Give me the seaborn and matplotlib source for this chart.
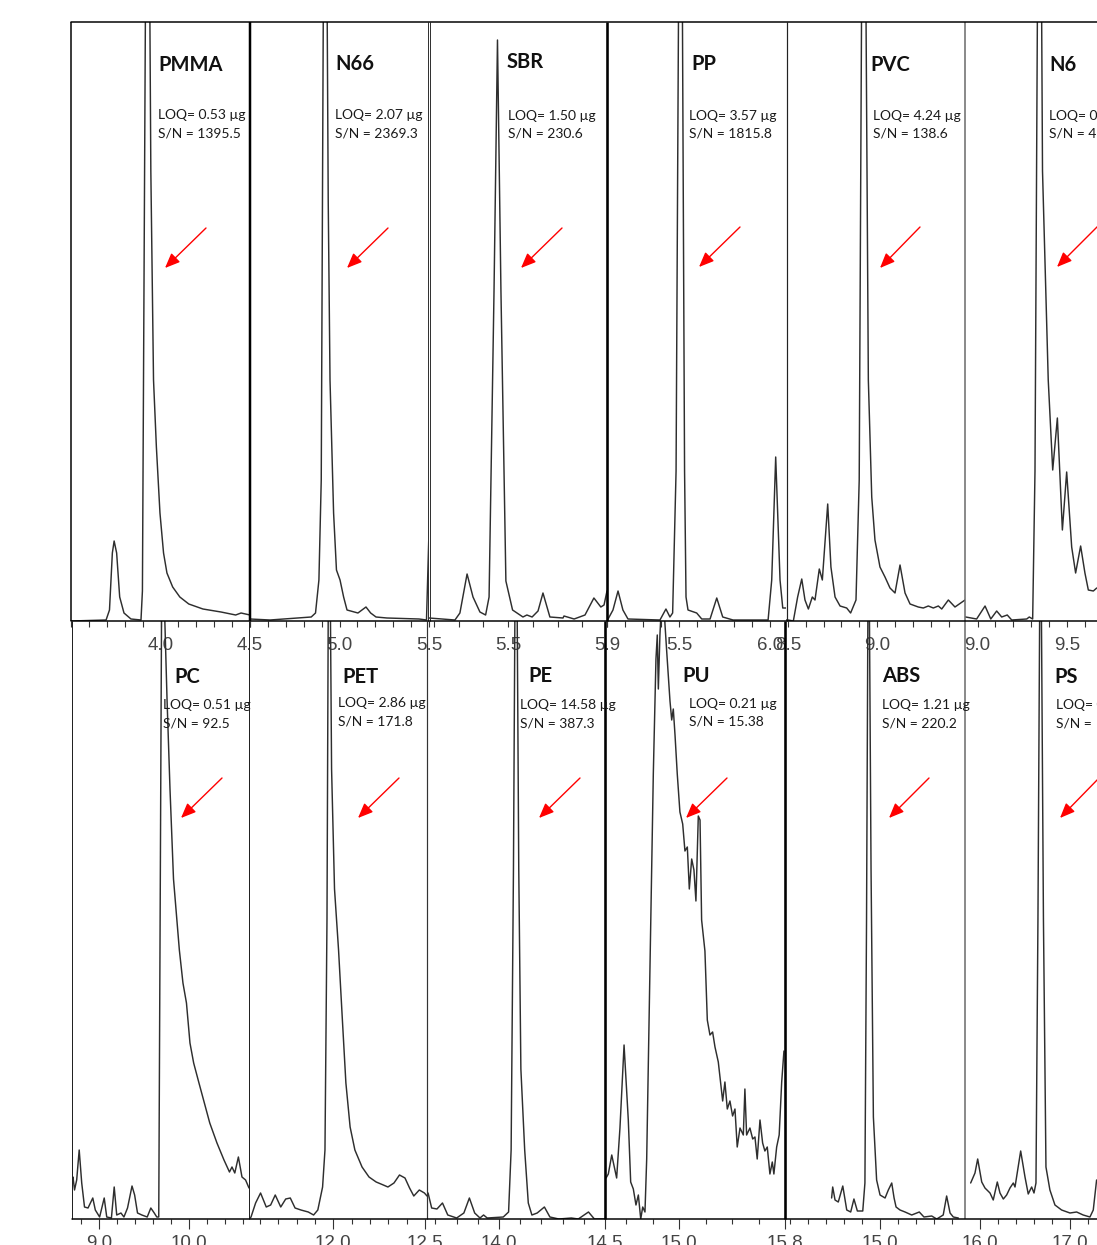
import matplotlib
matplotlib.use("Agg")
import matplotlib.pyplot as plt
import seaborn as sns
from matplotlib.ticker import MultipleLocator

# ---- data: retention time (min) and signal (a.u.) ----
# top row
pmma_time = [3.500, 3.696, 3.715, 3.731, 3.741, 3.755, 3.772, 3.796, 3.835, 3.891, 3.899,
             3.927, 3.946, 3.961, 3.977, 3.997, 4.017, 4.036, 4.068, 4.108, 4.158, 4.237,
             4.338, 4.420, 4.450, 4.500]
pmma_signal = [0, 1, 11, 68, 80, 68, 24, 8, 2, 1, 30, 1000, 450, 241, 174, 108, 68, 48, 34,
               24, 17, 12, 9, 6, 8, 6]

n66_time = [4.500, 4.612, 4.842, 4.866, 4.885, 4.898, 4.919, 4.937, 4.947, 4.967, 4.983,
            5.003, 5.023, 5.042, 5.103, 5.148, 5.174, 5.204, 5.265, 5.444, 5.486, 5.500]
n66_signal = [2, 1, 4, 8, 41, 141, 1000, 420, 241, 108, 51, 41, 24, 11, 8, 14, 8, 4, 3, 2,
              1, 90]

sbr_time = [5.180, 5.285, 5.305, 5.334, 5.358, 5.386, 5.409, 5.423, 5.443, 5.457, 5.471,
            5.491, 5.518, 5.560, 5.576, 5.597, 5.621, 5.641, 5.669, 5.722, 5.726, 5.767,
            5.811, 5.847, 5.875, 5.888, 5.900]
sbr_signal = [3, 1, 8, 47, 24, 9, 6, 24, 330, 581, 330, 40, 11, 4, 6, 4, 10, 28, 4, 3, 5,
              2, 6, 23, 14, 16, 30]

pp_time = [5.100, 5.106, 5.133, 5.161, 5.188, 5.216, 5.393, 5.426, 5.448, 5.463, 5.482,
           5.507, 5.529, 5.537, 5.548, 5.596, 5.624, 5.670, 5.707, 5.740, 5.797, 5.991,
           6.011, 6.033, 6.057, 6.072, 6.090]
pp_signal = [1, 2, 11, 30, 11, 2, 1, 12, 4, 8, 150, 1000, 150, 24, 11, 8, 2, 2, 23, 4, 1,
             1, 41, 164, 41, 13, 13]

pvc_time = [8.490, 8.503, 8.531, 8.555, 8.578, 8.596, 8.615, 8.637, 8.652, 8.676, 8.693,
            8.723, 8.741, 8.764, 8.792, 8.829, 8.851, 8.881, 8.899, 8.923, 8.950, 8.969,
            8.987, 9.015, 9.043, 9.071, 9.099, 9.127, 9.155, 9.183, 9.229, 9.257, 9.285,
            9.313, 9.341, 9.360, 9.397, 9.434, 9.490]
pvc_signal = [1, 1, 0, 24, 42, 21, 12, 24, 21, 52, 41, 117, 54, 24, 15, 13, 8, 21, 141, 1000,
              241, 124, 81, 54, 44, 33, 28, 56, 28, 17, 14, 13, 15, 13, 15, 12, 21, 14, 21]

n6_time = [8.934, 8.995, 9.042, 9.074, 9.107, 9.135, 9.166, 9.191, 9.275, 9.289, 9.308,
           9.321, 9.346, 9.363, 9.395, 9.420, 9.446, 9.474, 9.498, 9.526, 9.548, 9.576,
           9.600, 9.619, 9.647, 9.666]
n6_signal = [4, 2, 15, 2, 10, 4, 6, 1, 2, 4, 2, 150, 1000, 450, 241, 151, 203, 91, 149, 74,
             48, 75, 48, 31, 30, 33]

# bottom row
pc_time = [8.700, 8.711, 8.728, 8.752, 8.780, 8.808, 8.839, 8.878, 8.931, 8.959, 9.007,
           9.058, 9.086, 9.138, 9.169, 9.197, 9.244, 9.277, 9.317, 9.367, 9.396, 9.428,
           9.476, 9.536, 9.576, 9.614, 9.642, 9.664, 9.700, 9.756, 9.789, 9.828, 9.893,
           9.933, 9.972, 10.011, 10.052, 10.111, 10.171, 10.231, 10.311, 10.389, 10.450,
           10.478, 10.509, 10.549, 10.589, 10.629, 10.667]
pc_signal = [40, 42, 29, 39, 69, 36, 12, 11, 21, 9, 2, 21, 2, 1, 32, 4, 6, 2, 11, 33, 24, 6,
             4, 2, 11, 6, 2, 2, 700, 520, 430, 340, 269, 236, 216, 176, 156, 136, 116, 96,
             76, 59, 47, 52, 46, 62, 42, 39, 31]

pet_time = [11.540, 11.551, 11.576, 11.603, 11.634, 11.658, 11.683, 11.713, 11.740, 11.765,
            11.791, 11.823, 11.863, 11.892, 11.915, 11.941, 11.954, 11.965, 11.976, 11.990,
            12.006, 12.028, 12.048, 12.068, 12.091, 12.117, 12.156, 12.194, 12.233, 12.272,
            12.297, 12.330, 12.360, 12.390, 12.415, 12.438, 12.468, 12.496, 12.510]
pet_signal = [0, 2, 16, 26, 12, 14, 24, 12, 20, 21, 11, 9, 7, 4, 9, 32, 69, 300, 800, 450,
              330, 269, 202, 136, 92, 69, 52, 42, 37, 34, 32, 36, 44, 41, 31, 23, 29, 26, 23]

pe_time = [13.660, 13.665, 13.682, 13.707, 13.733, 13.758, 13.800, 13.834, 13.860, 13.885,
           13.910, 13.927, 13.944, 14.020, 14.045, 14.057, 14.068, 14.080, 14.093, 14.103,
           14.121, 14.138, 14.155, 14.180, 14.214, 14.240, 14.282, 14.341, 14.374, 14.422,
           14.450, 14.500]
pe_signal = [23, 26, 11, 10, 16, 4, 1, 6, 21, 6, 1, 4, 1, 2, 7, 69, 350, 800, 350, 150, 69,
             16, 4, 6, 12, 2, 0, 1, 0, 7, 0, 0]

pu_time = [14.448, 14.465, 14.491, 14.528, 14.553, 14.584, 14.616, 14.634, 14.654, 14.674,
           14.692, 14.710, 14.725, 14.742, 14.755, 14.780, 14.805, 14.825, 14.835, 14.843,
           14.855, 14.876, 14.893, 14.906, 14.931, 14.944, 14.956, 14.969, 14.986, 15.006,
           15.027, 15.044, 15.062, 15.077, 15.095, 15.112, 15.127, 15.145, 15.158, 15.170,
           15.195, 15.213, 15.233, 15.253, 15.271, 15.296, 15.329, 15.346, 15.364, 15.384,
           15.404, 15.422, 15.439, 15.460, 15.485, 15.497, 15.510, 15.535, 15.556, 15.573,
           15.590, 15.611, 15.631, 15.648, 15.666, 15.686, 15.704, 15.716, 15.737, 15.756,
           15.775, 15.792]
pu_signal = [41, 45, 64, 41, 91, 174, 99, 37, 30, 14, 24, 0, 12, 7, 60, 253, 445, 560, 584,
             530, 584, 640, 595, 568, 518, 499, 510, 484, 445, 407, 395, 368, 372, 330, 360,
             349, 318, 403, 399, 299, 268, 199, 184, 187, 172, 157, 118, 137, 110, 118, 103,
             110, 72, 91, 84, 130, 84, 91, 80, 82, 60, 99, 76, 68, 72, 45, 57, 45, 72, 84,
             137, 168]

abs_time = [14.729, 14.735, 14.748, 14.766, 14.791, 14.813, 14.835, 14.853, 14.872, 14.902,
            14.914, 14.923, 14.934, 14.948, 14.961, 14.979, 14.998, 15.026, 15.044, 15.063,
            15.076, 15.087, 15.109, 15.137, 15.174, 15.216, 15.242, 15.285, 15.313, 15.349,
            15.368, 15.387, 15.405, 15.433]
abs_signal = [21, 32, 19, 17, 33, 9, 7, 20, 8, 8, 36, 300, 750, 350, 102, 39, 24, 21, 29, 36,
              21, 12, 9, 7, 4, 7, 2, 3, 0, 4, 23, 6, 2, 1]

ps_time = [15.893, 15.941, 15.971, 16.016, 16.052, 16.108, 16.144, 16.189, 16.219, 16.256,
           16.293, 16.330, 16.367, 16.386, 16.449, 16.497, 16.533, 16.571, 16.597, 16.619,
           16.641, 16.669, 16.702, 16.730, 16.774, 16.830, 16.904, 16.997, 17.071, 17.144,
           17.219, 17.256, 17.293]
ps_signal = [36, 46, 60, 37, 31, 26, 19, 37, 26, 20, 24, 31, 36, 32, 68, 42, 25, 32, 26, 36,
             300, 750, 300, 52, 29, 14, 9, 6, 7, 4, 2, 9, 39]

top_names = ["PMMA", "N66", "SBR", "PP", "PVC", "N6"]
top_loq = ["LOQ= 0.53 µg", "LOQ= 2.07 µg", "LOQ= 1.50 µg", "LOQ= 3.57 µg", "LOQ= 4.24 µg", "LOQ= 0"]
top_sn = ["S/N = 1395.5", "S/N = 2369.3", "S/N = 230.6", "S/N = 1815.8", "S/N = 138.6", "S/N = 4"]
bottom_names = ["PC", "PET", "PE", "PU", "ABS", "PS"]
bottom_loq = ["LOQ= 0.51 µg", "LOQ= 2.86 µg", "LOQ= 14.58 µg", "LOQ= 0.21 µg", "LOQ= 1.21 µg", "LOQ= 0"]
bottom_sn = ["S/N = 92.5", "S/N = 171.8", "S/N = 387.3", "S/N = 15.38", "S/N = 220.2", "S/N ="]

top_traces = [(pmma_time, pmma_signal), (n66_time, n66_signal), (sbr_time, sbr_signal),
              (pp_time, pp_signal), (pvc_time, pvc_signal), (n6_time, n6_signal)]
bottom_traces = [(pc_time, pc_signal), (pet_time, pet_signal), (pe_time, pe_signal),
                 (pu_time, pu_signal), (abs_time, abs_signal), (ps_time, ps_signal)]

top_xlims = [(3.5, 4.5), (4.5, 5.5), (5.18, 5.9), (5.1, 6.09), (8.49, 9.49), (8.93, 9.93)]
top_major = [[4.0, 4.5], [5.0, 5.5], [5.5, 5.9], [5.5, 6.0], [8.5, 9.0], [9.0, 9.5]]
bottom_xlims = [(8.7, 10.667), (11.54, 12.51), (13.66, 14.5), (14.44, 15.8), (14.47, 15.47), (15.83, 17.82)]
bottom_major = [[9.0, 10.0], [12.0, 12.5], [14.0, 14.5], [15.0, 15.8], [15.0], [16.0, 17.0]]
bottom_minor = [0.2, 0.1, 0.1, 0.2, 0.1, 0.2]

# ---- layout (pixels of the 1097x1245 canvas) ----
W, H = 1097, 1245
top_px = [(71, 250), (250, 429), (429, 607), (607, 786), (786, 965), (965, 1144)]
bottom_px = [(72, 249), (249, 427), (427, 605), (605, 785), (785, 965), (965, 1144)]
TOP_Y, MID_Y, BOT_Y = 22, 621, 1219

top_title_xy = [(158, 65), (335, 64), (507, 62), (691, 64), (870, 65), (1049, 65)]
top_note_xy = [(158, 115), (335, 115), (508, 116), (689, 116), (873, 116), (1049, 116)]
bottom_title_xy = [(174, 677), (342, 677), (528, 676), (682, 676), (882, 676), (1054, 677)]
bottom_note_xy = [(163, 705), (338, 703), (520, 705), (689, 704), (882, 705), (1056, 705)]

top_arrows = [((206, 228), (165, 268)), ((388, 228), (347, 268)), ((562, 228), (521, 268)),
              ((740, 227), (699, 267)), ((920, 227), (880, 268)), ((1100, 224), (1057, 267))]
bottom_arrows = [((222, 778), (181, 818)), ((399, 778), (358, 818)), ((580, 778), (539, 818)),
                 ((727, 778), (686, 818)), ((929, 778), (889, 818)), ((1100, 777), (1060, 818))]

sns.set_theme(style="white")
plt.rcParams["font.family"] = ["Liberation Sans", "DejaVu Sans"]

fig = plt.figure(figsize=(W / 100, H / 100), dpi=100)


def rect(x0, x1, y0, y1):
    return [x0 / W, 1 - y1 / H, (x1 - x0) / W, (y1 - y0) / H]


def panel(px, y0, y1, trace, xlim, major, minor, z, tick_len):
    ax = fig.add_axes(rect(px[0], px[1], y0, y1))
    ax.set_zorder(z)
    ax.set_facecolor("none")
    sns.lineplot(x=trace[0], y=trace[1], ax=ax, color="#2e2e2e", linewidth=1.05,
                 estimator=None, sort=False)
    ax.set_xlim(*xlim)
    ax.set_ylim(0, y1 - y0)
    ax.set_yticks([])
    ax.set_xlabel("")
    ax.set_ylabel("")
    for sp in ax.spines.values():
        sp.set_visible(False)
    ax.set_xticks(major, labels=[f"{v:.1f}" for v in major])
    ax.xaxis.set_minor_locator(MultipleLocator(minor))
    ax.tick_params(axis="x", which="both", bottom=True, direction="out", width=0.8,
                   color="#333333", labelsize=13.5, labelcolor="#444444")
    ax.tick_params(axis="x", which="major", length=tick_len[0], pad=tick_len[2])
    ax.tick_params(axis="x", which="minor", length=tick_len[1])
    return ax


for i in range(6):
    panel(top_px[i], TOP_Y, MID_Y, top_traces[i], top_xlims[i], top_major[i], 0.1, 1,
          (4.3, 4.3, 7))
for i in range(6):
    panel(bottom_px[i], MID_Y, BOT_Y, bottom_traces[i], bottom_xlims[i], bottom_major[i],
          bottom_minor[i], 2, (7.2, 3.6, 4))

# overlay for frames, labels and arrows
ov = fig.add_axes([0, 0, 1, 1])
ov.set_zorder(5)
ov.set_xlim(0, W)
ov.set_ylim(H, 0)
ov.axis("off")

px2pt = 0.72
top_borders = [(71, 1.5, "black"), (250, 2.5, "black"), (427.5, 1.0, "#333333"),
               (430, 1.0, "#333333"), (607, 2.6, "black"), (786.5, 1.2, "#222222"),
               (965, 1.5, "#666666")]
bottom_borders = [(72, 1.0, "#222222"), (249, 1.0, "#222222"), (427, 1.2, "#333333"),
                  (605, 2.6, "black"), (785, 2.6, "black"), (965, 1.5, "#666666")]
for x, lw, c in top_borders:
    ov.plot([x, x], [TOP_Y, MID_Y], color=c, lw=lw * px2pt, solid_capstyle="butt")
for x, lw, c in bottom_borders:
    ov.plot([x, x], [MID_Y, BOT_Y], color=c, lw=lw * px2pt, solid_capstyle="butt")
ov.plot([71, W], [TOP_Y, TOP_Y], color="black", lw=1.5 * px2pt)
ov.plot([71, W], [MID_Y, MID_Y], color="black", lw=1.5 * px2pt)
ov.plot([72, W], [BOT_Y, BOT_Y], color="black", lw=1.5 * px2pt)

title_font = dict(family=["Lato", "DejaVu Sans"], fontweight="bold", fontsize=14.5, color="#111111")
note_font = dict(family=["Lato", "DejaVu Sans"], fontsize=10, color="#1a1a1a")

for names, loq, sn, txy, nxy in [(top_names, top_loq, top_sn, top_title_xy, top_note_xy),
                                 (bottom_names, bottom_loq, bottom_sn, bottom_title_xy, bottom_note_xy)]:
    for i in range(6):
        ov.text(txy[i][0], txy[i][1], names[i], ha="left", va="center", **title_font)
        ov.text(nxy[i][0], nxy[i][1], loq[i], ha="left", va="center", **note_font)
        ov.text(nxy[i][0], nxy[i][1] + 18, sn[i], ha="left", va="center", **note_font)

for tail, head in top_arrows + bottom_arrows:
    ov.annotate("", xy=head, xytext=tail,
                arrowprops=dict(arrowstyle="-|>,head_length=0.6,head_width=0.25",
                                color="#ff0000", lw=1.0, shrinkA=0, shrinkB=0,
                                mutation_scale=15))

fig.savefig("out.png", dpi=100)
